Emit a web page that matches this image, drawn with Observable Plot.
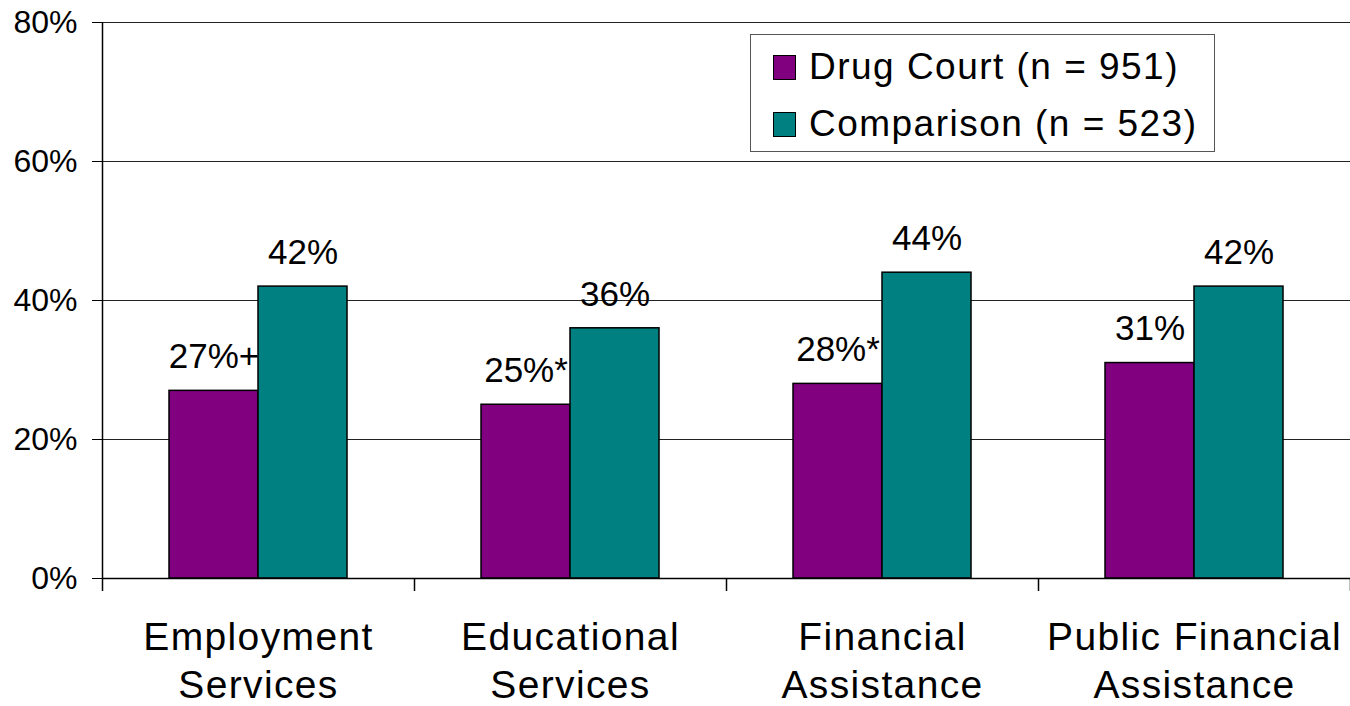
<!DOCTYPE html>
<html>
<head>
<meta charset="utf-8">
<script src="https://cdn.jsdelivr.net/npm/d3@7"></script>
<script src="https://cdn.jsdelivr.net/npm/@observablehq/plot@0.6"></script>
<style>
  html, body { margin: 0; padding: 0; background: #fff; }
  #wrap { position: relative; width: 1350px; height: 706px; overflow: hidden;
          font-family: "Liberation Sans", Arial, Helvetica, sans-serif; }
  .legend { position: absolute; left: 750px; top: 34px; width: 463px; height: 116px;
            border: 1px solid #555; background: #fff; box-sizing: content-box; }
  .legend .row { position: absolute; left: 22px; display: flex; align-items: center;
                 font-size: 37px; letter-spacing: 0.04em; color: #000; white-space: nowrap; }
  .legend .sw { width: 21px; height: 23px; border: 1px solid #000; margin-right: 13px; flex: none; }
</style>
</head>
<body>
<div id="wrap"></div>
<script>
const categories = ["Employment\nServices", "Educational\nServices", "Financial\nAssistance", "Public Financial\nAssistance"];
const series = ["Drug Court (n = 951)", "Comparison (n = 523)"];
const drugCourt = [27, 25, 28, 31];
const comparison = [42, 36, 44, 42];
const drugCourtLabels = ["27%+", "25%*", "28%*", "31%"];
const comparisonLabels = ["42%", "36%", "44%", "42%"];
const yTicks = [0, 20, 40, 60, 80];
const colors = ["#800080", "#008080"];

const rows = [];
categories.forEach((c, i) => {
  rows.push({category: c, series: series[0], value: drugCourt[i], label: drugCourtLabels[i]});
  rows.push({category: c, series: series[1], value: comparison[i], label: comparisonLabels[i]});
});

const font = '"Liberation Sans", Arial, Helvetica, sans-serif';

const plot = Plot.plot({
  width: 1350,
  height: 706,
  marginLeft: 102,
  marginRight: 0,
  marginTop: 22,
  marginBottom: 128,
  style: {fontFamily: font, background: "#fff", color: "#000", overflow: "visible"},
  fx: {domain: categories, padding: 0, label: null},
  x: {domain: series, paddingInner: 0, paddingOuter: 0.7528, axis: null},
  y: {domain: [0, 80], axis: null},
  color: {domain: series, range: colors},
  marks: [
    Plot.ruleY(yTicks, {stroke: "#222", strokeWidth: 1}),
    Plot.barY(rows, {fx: "category", x: "series", y: "value", fill: "series", stroke: "#000", strokeWidth: 1.5}),
    Plot.text(rows, {fx: "category", x: "series", y: "value", text: "label", dy: -34,
                     lineAnchor: "middle", textAnchor: "middle", fontSize: 35, fill: "#000"}),
    Plot.axisY(yTicks, {tickFormat: d => d + "%", tickSize: 10, tickPadding: 15, fontSize: 32,
                        label: null, stroke: "#000"}),
    Plot.axisFx({anchor: "bottom", tickSize: 0, tickPadding: 37, fontSize: 39, lineHeight: 1.23,
                 label: null})
  ]
});

const wrap = document.getElementById("wrap");
wrap.appendChild(plot);

// axis line and category separators from the library's own scales
const fx = plot.scale("fx");
const y = plot.scale("y");
const y0 = y.apply(0), yTop = y.apply(yTicks[yTicks.length - 1]);
const bounds = categories.map(c => fx.apply(c));
bounds.push(bounds[bounds.length - 1] + fx.bandwidth);
const svg = d3.select(plot);
const g = svg.append("g").attr("stroke", "#000").attr("stroke-width", 1.5);
bounds.forEach((b, i) => {
  g.append("line")
    .attr("x1", Math.round(b) + 0.5).attr("x2", Math.round(b) + 0.5)
    .attr("y1", i === 0 ? yTop : y0).attr("y2", y0 + 13);
});
g.append("line").attr("x1", bounds[0]).attr("x2", bounds[bounds.length - 1])
  .attr("y1", y0 + 0.5).attr("y2", y0 + 0.5);

svg.selectAll('g[aria-label="fx-axis tick label"] text').style("letter-spacing", "0.035em");

// legend inside the plot area
const color = plot.scale("color");
const legend = document.createElement("div");
legend.className = "legend";
series.forEach((s, i) => {
  const row = document.createElement("div");
  row.className = "row";
  row.style.top = (i === 0 ? 11 : 68) + "px";
  const sw = document.createElement("span");
  sw.className = "sw";
  sw.style.background = color.apply(s);
  const t = document.createElement("span");
  t.textContent = s;
  row.appendChild(sw);
  row.appendChild(t);
  legend.appendChild(row);
});
wrap.appendChild(legend);
</script>
</body>
</html>
